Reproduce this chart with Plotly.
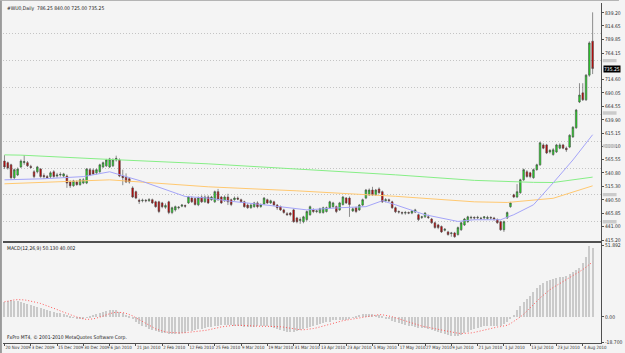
import plotly.graph_objects as go

# ---------------- data ----------------
bars = list(range(180))

opens = [563, 560, 556, 532, 537, 552, 560, 560, 553, 543,
         543, 548, 536, 534, 534, 543, 535, 537, 535, 535,
         524, 517, 524, 519, 522, 522, 547, 546, 541, 543,
         552, 554, 552, 554, 565, 565, 535, 533, 530, 513,
         506, 490, 489, 490, 489, 491, 487, 487, 485, 477,
         487, 467, 472, 476, 479, 480, 485, 494, 493, 481.5,
         496, 487, 496, 491, 487, 506, 496, 489, 496, 491,
         491, 494, 491, 487, 481, 476, 478, 485, 478, 483,
         491, 485, 487, 481, 478, 472, 465, 466, 472, 457,
         452, 450, 454, 463, 472, 469, 467, 467, 469, 476,
         478, 478, 472, 482, 494, 494, 470, 476, 472, 481,
         494, 500, 509, 500, 511, 506, 489, 491, 487, 476,
         469, 467, 466, 467, 466, 468, 463, 458, 459, 459,
         455, 448, 444, 441, 434, 431, 428, 429, 426, 435,
         444, 450, 457, 458, 457, 456, 457, 456, 458, 457,
         454, 450, 435, 457, 478, 500, 496, 504, 528, 543,
         541, 532, 547, 556, 593, 593, 580, 575, 580, 587,
         593, 587, 589, 608, 625, 673, 690, 677, 723, 786.25]

highs = [574, 562, 558, 549, 551, 566, 574, 563, 556, 546,
         554, 550, 540, 537, 544, 546, 541, 542, 541, 538,
         527, 528, 527, 530, 531, 550, 550, 549, 549, 558,
         562, 567, 569, 568, 573, 568, 547, 540, 533, 516,
         508, 493, 493, 492, 494, 493, 489, 489, 487, 484,
         489, 478, 480, 479, 483, 482, 498, 497, 495, 497,
         499, 499, 499, 498, 508, 511, 498, 499, 502, 493,
         497, 497, 493, 489, 484, 483, 487, 488, 484, 496,
         493, 491, 489, 483, 480, 474, 468, 468, 474, 459,
         458, 461, 471, 480, 475, 472, 476, 478, 478, 489,
         487, 480, 487, 498, 496, 497, 477, 478, 483, 493,
         511, 512, 515, 511, 514, 508, 494, 493, 489, 478,
         471, 469, 470, 469, 472, 474, 465, 461, 468, 463,
         457, 450, 446, 443, 438, 433, 431, 431, 441, 450,
         457, 461, 461, 460, 461, 459, 460, 461, 460, 459,
         456, 452, 452, 469, 487, 502, 520, 530, 549, 546,
         543, 549, 558, 599, 596, 595, 585, 587, 595, 596,
         595, 590, 613, 628, 660, 708, 708, 725, 786, 840]

lows = [548, 547, 529, 529, 535, 550, 556, 552, 549, 531,
        540, 532, 530, 530, 531, 532, 532, 534, 532, 513,
        513, 515, 517, 517, 520, 520, 535, 537, 538, 541,
        550, 552, 550, 552, 562, 533, 518, 522, 521, 494,
        492, 483, 486, 486, 487, 483, 476, 466, 475, 474,
        464, 464, 469, 473, 477, 476, 483, 485, 480, 479,
        485, 485, 483, 489, 485, 489, 483, 487, 481, 479,
        489, 490, 485, 476, 474, 474, 476, 475, 476, 481,
        483, 483, 479, 472, 470, 465, 461, 460, 448, 447,
        446, 447, 451, 461, 466, 466, 465, 465, 467, 474,
        476, 466, 470, 480, 483, 459, 468, 466, 470, 479,
        492, 498, 498, 498, 502, 485, 486, 487, 474, 466,
        465, 463, 463, 464, 464, 466, 451, 455, 457, 455,
        446, 437, 436, 429, 432, 424, 422, 420, 424, 433,
        442, 448, 454, 454, 455, 453, 454, 454, 454, 452,
        446, 433, 431, 455, 476, 494, 494, 502, 526, 532,
        531, 530, 545, 554, 585, 576, 577, 573, 578, 585,
        585, 580, 587, 606, 623, 671, 675, 675, 720, 725]

closes = [552, 550, 532, 547, 548, 563, 562, 554, 551, 534,
          552, 534, 534, 532, 541, 534, 537, 538, 539, 522,
          517, 526, 519, 528, 528, 548, 537, 539, 547, 556,
          560, 565, 567, 565, 568, 535, 532, 524, 524, 496,
          494, 488, 490, 489, 491, 485, 478, 469, 478, 480,
          467, 476, 478, 477, 481, 479, 496, 487, 482, 494.5,
          487, 496, 485, 496, 506, 491, 485, 496, 487, 482,
          494, 492, 487, 478, 476, 481, 485, 478, 482, 494,
          485, 489, 481, 476, 472, 467, 463, 463, 450, 450,
          454, 459, 469, 478, 469, 470, 474, 476, 476, 487,
          485, 469, 485, 496, 485, 482, 474, 469, 481, 491,
          509, 509, 500, 509, 504, 487, 491, 489, 476, 468.5,
          468, 466, 467, 466, 470, 472, 454, 459, 466, 458,
          448, 439, 439, 431, 436, 426, 429, 422, 439, 448,
          455, 459, 458, 457, 458, 456.5, 459, 458, 457, 455,
          448, 435, 450, 467, 485, 496, 506, 528, 547, 534,
          534, 547, 556, 597, 587, 578, 583, 584, 593, 593,
          587, 584, 611, 626, 658, 686, 677, 723, 783, 735.25]

# moving averages (values read at selected bars)
ma_fast_bars = [0, 12, 24, 32, 42, 55, 62, 69, 79, 92, 102, 110, 115, 119,
                128, 138, 143, 151, 155, 161, 167, 173, 179]
ma_fast_vals = [528, 530, 534, 543, 525, 497, 494, 488, 481.5, 472, 476, 478,
                489, 481.5, 463, 450.5, 453.6, 453.6, 463, 481.5, 522.4, 565, 612]
ma_slow_bars = [0, 5, 32, 62, 119, 143, 161, 167, 179]
ma_slow_vals = [574.5, 574, 566, 557.8, 537.3, 527, 523.3, 523, 533]
ma_mid_bars = [0, 32, 62, 89, 119, 143, 153, 167, 179]
ma_mid_vals = [520.6, 528, 515, 507.5, 497.3, 487, 485.8, 493.6, 516.8]

macd_main = [11.5, 12.0, 12.3, 12.1, 11.8, 11.2,
             10.2, 9.6, 9.0, 8.2, 7.6, 7.0,
             6.0, 5.2, 4.6, 4.0, 3.4, 3.0, 2.4, 1.8,
             0.8, -0.3, -0.8, -1.0, -0.6, -0.2,
             0.8, 1.5, 2.2, 3.0, 3.8, 4.6, 5.2, 5.6,
             5.4, 4.0, 3.0, 1.8, 0.4, -1.5,
             -3.0, -4.6, -6.0, -7.2, -8.2, -9.0, -9.8, -10.6, -11.0, -11.4,
             -12.0, -12.0, -12.2, -12.0, -11.6, -11.0, -10.0, -9.6, -9.2, -8.6,
             -8.2, -7.8, -7.2, -6.8,
             -6.4, -6.0, -5.8, -5.6, -5.6, -5.8, -6.0, -6.2, -6.6, -7.0, -7.2, -7.2,
             -7.0, -6.6, -6.4, -6.4, -6.6, -7.0, -7.6, -8.4, -9.0, -9.8, -10.4, -10.6,
             -10.4, -9.8,
             -9.0, -8.2, -7.6, -7.0, -6.2, -5.6, -4.8, -4.0, -3.6, -3.0, -2.2, -1.6,
             -1.6, -1.8, -1.6, -1.0,
             -0.2, 1.0, 1.8, 2.2, 2.6, 2.8, 2.6, 2.0, 1.4, 0.4, -0.6, -1.4, -2.4,
             -3.4, -4.2, -5.0, -5.6, -6.2, -6.6, -6.8, -7.4, -7.8, -8.0, -8.4, -9.0,
             -9.8, -10.6, -11.4, -12.0, -12.8, -13.4, -13.8,
             -13.6, -12.8, -11.6, -10.4, -9.4, -8.6, -7.8, -7.2, -6.6, -6.2, -6.0,
             -6.0, -6.4, -6.2, -5.0,
             -3.0, -0.6, 2.0, 5.0, 8.4, 11.4, 13.6, 15.8, 18.2, 21.6, 23.8, 25.2,
             26.2, 27.0, 27.8, 28.4, 29.0, 29.6, 30.2, 31.2, 32.6, 34.4, 36.2, 39.4,
             44.0, 51.892, 50.13]

macd_signal = [11.0, 11.6, 12.0, 12.4, 12.6, 12.6,
               12.4, 12.0, 11.6, 11.0, 10.4, 9.8,
               9.0, 8.2, 7.2, 6.2, 5.4, 4.4, 3.4, 2.6,
               1.6, 0.8, 0.0, -0.8, -1.4, -1.8,
               -1.8, -1.4, -0.8, -0.2, 0.6, 1.6, 2.4, 3.0,
               3.4, 3.4, 3.2, 2.6, 1.8, 0.8,
               -0.6, -2.0, -3.6, -5.0, -6.4, -7.6, -8.6, -9.4, -10.2, -10.8,
               -11.2, -11.4, -11.6, -11.6, -11.6, -11.4, -11.2, -10.8, -10.6, -10.2,
               -10.0, -9.8, -9.4, -9.0,
               -8.4, -7.8, -7.2, -6.8, -6.4, -6.2, -6.0, -6.0, -6.0, -6.0, -6.2, -6.4,
               -6.6, -6.8, -6.8, -6.8, -6.8, -6.8, -6.8, -6.9, -7.1, -7.4, -7.8, -8.3,
               -8.8, -9.1,
               -9.3, -9.3, -9.1, -8.8, -8.4, -7.9, -7.2, -6.6, -5.9, -5.2, -4.5, -3.8,
               -3.2, -2.7, -2.3, -1.9,
               -1.6, -1.1, -0.6, -0.1, 0.4, 0.8, 1.2, 1.5, 1.7, 1.6, 1.3, 0.8, 0.2,
               -0.6, -1.4, -2.2, -3.0, -3.8, -4.6, -5.3, -6.0, -6.6, -7.1, -7.6, -8.0,
               -8.4, -8.9, -9.4, -9.9, -10.4, -10.9, -11.4,
               -11.8, -12.0, -12.0, -11.9, -11.6, -11.2, -10.6, -10.0, -9.4, -8.8, -8.2,
               -7.7, -7.3, -7.0, -6.6,
               -6.0, -4.8, -3.4, -1.8, 0.0, 2.0, 4.2, 6.6, 9.0, 11.4, 13.8, 16.0,
               18.0, 19.8, 21.4, 22.8, 24.2, 25.6, 27.0, 28.4, 29.8, 31.2, 32.8, 34.4,
               36.2, 38.2, 40.002]

date_bars = [0, 8, 16, 24, 32, 40, 48, 56, 64, 72, 80, 88, 96, 104, 112, 120,
             128, 136, 144, 152, 160, 168, 176]
date_labels = ["20 Nov 2009", "3 Dec 2009", "15 Dec 2009", "30 Dec 2009",
               "6 Jan 2010", "21 Jan 2010", "2 Feb 2010", "12 Feb 2010",
               "25 Feb 2010", "9 Mar 2010", "19 Mar 2010", "31 Mar 2010",
               "13 Apr 2010", "23 Apr 2010", "5 May 2010", "17 May 2010",
               "27 May 2010", "9 Jun 2010", "21 Jun 2010", "1 Jul 2010",
               "13 Jul 2010", "23 Jul 2010", "4 Aug 2010"]

price_ticks = [839.20, 814.65, 789.85, 764.15, 714.60, 690.05, 664.55, 639.90,
               615.15, 590.10, 565.55, 540.80, 515.30, 490.50, 465.85, 441.00, 415.20]
price_labels = ["839.20", "814.65", "789.85", "764.15", "714.60", "690.05", "664.55",
                "639.90", "615.15", "590.10", "565.55", "540.80", "515.30", "490.50",
                "465.85", "441.00", "415.20"]
grid_levels = [450, 500, 550, 600, 650, 700, 750, 800]
grey_marks = [750.0, 652.4, 591.2, 500.4, 450.0]
last_price = 735.25

macd_ticks = [51.892, 0.0, -18.7]
macd_labels = ["51.892", "0.00", "-18.700"]

# ---------------- figure ----------------
FONT = "DejaVu Sans Condensed, Liberation Sans Narrow, Arial Narrow, sans-serif"
AX = "#505050"

fig = go.Figure()

fig.add_trace(go.Scatter(x=ma_slow_bars, y=ma_slow_vals, mode="lines",
                         line=dict(color="#86ee86", width=1), xaxis="x", yaxis="y",
                         hoverinfo="skip"))
fig.add_trace(go.Scatter(x=ma_mid_bars, y=ma_mid_vals, mode="lines",
                         line=dict(color="#ffc870", width=1), xaxis="x", yaxis="y",
                         hoverinfo="skip"))
fig.add_trace(go.Scatter(x=ma_fast_bars, y=ma_fast_vals, mode="lines",
                         line=dict(color="#a4a4f8", width=1), xaxis="x", yaxis="y",
                         hoverinfo="skip"))

fig.add_trace(go.Candlestick(
    x=bars, open=opens, high=highs, low=lows, close=closes,
    increasing=dict(fillcolor="#22e022", line=dict(color="#484848", width=0.6)),
    decreasing=dict(fillcolor="#cc0000", line=dict(color="#484848", width=0.6)),
    whiskerwidth=0, xaxis="x", yaxis="y"))

fig.add_trace(go.Bar(x=bars, y=macd_main, width=0.3,
                     marker=dict(color="#cacaca", line=dict(width=0)),
                     xaxis="x2", yaxis="y2"))
fig.add_trace(go.Scatter(x=bars, y=macd_signal, mode="lines",
                         line=dict(color="#ff5a5a", width=1, dash="1px,2px"),
                         xaxis="x2", yaxis="y2"))

xr = [-0.45, 181.55]
fig.update_layout(
    width=625, height=353,
    margin=dict(l=3, r=18, t=3, b=8),
    paper_bgcolor="#f4f4f4", plot_bgcolor="#f4f4f4",
    showlegend=False,
    bargap=0,
    font=dict(family=FONT, size=5, color="#303030"),
    xaxis=dict(domain=[0, 1], anchor="y", range=xr, showticklabels=False,
               showgrid=False, zeroline=False, showline=True, linecolor=AX,
               linewidth=1, ticks="", rangeslider=dict(visible=False)),
    xaxis2=dict(domain=[0, 1], anchor="y2", matches="x", range=xr,
                tickmode="array", tickvals=date_bars, ticktext=date_labels,
                ticks="outside", ticklen=2, tickcolor=AX, tickangle=0,
                ticklabelposition="outside right",
                tickfont=dict(size=4.4, family=FONT, color="#303030"),
                showgrid=False, zeroline=False, showline=True, mirror=True,
                linecolor=AX, linewidth=1),
    yaxis=dict(domain=[0.3012, 1], anchor="x", side="right", range=[414.8, 857.4],
               tickmode="array", tickvals=price_ticks, ticktext=price_labels,
               ticks="outside", ticklen=2, tickcolor=AX,
               tickfont=dict(size=5, family=FONT, color="#303030"),
               showgrid=False, zeroline=False, showline=True, linecolor=AX,
               minor=dict(tickvals=grid_levels, showgrid=True, gridcolor="#c4c4c4",
                          griddash="1px,2px", gridwidth=1, ticks="")),
    yaxis2=dict(domain=[0, 0.2953], anchor="x2", side="right", range=[-18.9, 54.0],
                tickmode="array", tickvals=macd_ticks, ticktext=macd_labels,
                ticks="outside", ticklen=2, tickcolor=AX,
                tickfont=dict(size=5, family=FONT, color="#303030"),
                showgrid=False, zeroline=False, showline=True, linecolor=AX),
)

# price axis markers (small grey boxes on the scale)
for v in grey_marks:
    fig.add_shape(type="rect", xref="paper", yref="y", x0=1.003, x1=1.026,
                  y0=v - 3.2, y1=v + 3.2, fillcolor="#cbcbcb", line=dict(width=0),
                  layer="above")
fig.add_annotation(xref="paper", yref="y", x=1.004, y=last_price, xanchor="left",
                   text="%.2f" % last_price, showarrow=False, bgcolor="#000000",
                   font=dict(size=5, color="#ffffff", family=FONT), borderpad=0)

fig.add_annotation(xref="paper", yref="paper", x=0.004, y=0.999, xanchor="left",
                   yanchor="top", showarrow=False,
                   text="#WU0,Daily  786.25 840.00 725.00 735.25",
                   font=dict(size=5, color="#202020", family=FONT))
fig.add_annotation(xref="paper", yref="paper", x=0.004, y=0.2953, xanchor="left",
                   yanchor="top", showarrow=False,
                   text="MACD(12,26,9) 50.130 40.002",
                   font=dict(size=5, color="#202020", family=FONT))
fig.add_annotation(xref="paper", yref="paper", x=0.004, y=0.0, xanchor="left",
                   yanchor="bottom", showarrow=False,
                   text="FxPro MT4, \u00a9 2001-2010 MetaQuotes Software Corp.",
                   font=dict(size=5, color="#202020", family=FONT))

# window border on the left / top
fig.add_shape(type="line", xref="paper", yref="paper", x0=-0.0035, x1=-0.0035,
              y0=-0.03, y1=1.01, line=dict(color="#9a9a9a", width=2))
fig.add_shape(type="line", xref="paper", yref="paper", x0=-0.01, x1=1.03,
              y0=1.0075, y1=1.0075, line=dict(color="#b0b0b0", width=1))

fig.write_html("out.html")
